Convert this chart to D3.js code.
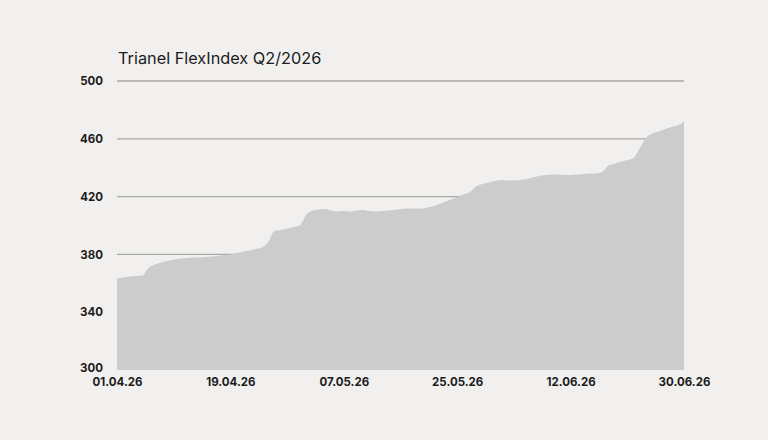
<!DOCTYPE html>
<html lang="en">
<head>
    <meta charset="UTF-8">
    <title>Trianel FlexIndex Q2/2026</title>
    <style>
        body { margin: 0; background: #f1f0ee; overflow: hidden; }
        svg { display: block; font-family: Inter, "Noto Sans", sans-serif; }
    </style>
</head>
<body>
<svg id="chart" width="768" height="440"></svg>
<script src="https://cdnjs.cloudflare.com/ajax/libs/d3/7.8.5/d3.min.js"></script>
<script>
    const title = "Trianel FlexIndex Q2/2026";
    const startDate = "2026-04-01";
    // daily index values, 01.04.26 - 30.06.26
    const values = [
        363.3, 364.0, 364.7, 365.0, 365.4, 370.6, 373.0, 374.4, 375.4, 376.5,
        377.2, 377.5, 377.9, 377.9, 378.2, 378.5, 378.9, 379.6, 379.9, 380.9,
        381.9, 382.7, 383.7, 384.8, 388.6, 396.2, 396.9, 397.9, 399.0, 400.0,
        407.3, 410.2, 411.0, 411.4, 410.4, 409.7, 410.0, 409.7, 410.4, 410.7,
        410.0, 409.7, 410.0, 410.4, 410.7, 411.4, 411.7, 411.7, 411.7, 412.1,
        413.1, 414.5, 416.3, 418.0, 419.7, 421.5, 423.2, 427.0, 428.7, 429.8,
        430.8, 431.5, 431.1, 431.1, 431.5, 432.2, 433.2, 434.3, 434.9, 435.3,
        435.3, 434.9, 434.9, 435.3, 435.6, 436.0, 436.0, 437.0, 441.5, 442.8,
        444.3, 445.3, 446.7, 453.6, 460.9, 463.7, 465.0, 466.8, 468.2, 469.2,
        472.0
    ];
    const yTicks = [300, 340, 380, 420, 460, 500];
    const xTickLabels = ["01.04.26", "19.04.26", "07.05.26", "25.05.26", "12.06.26", "30.06.26"];

    const parse = d3.timeParse("%Y-%m-%d");
    const parseTick = d3.timeParse("%d.%m.%y");
    const start = parse(startDate);
    const data = values.map((v, i) => ({ date: d3.timeDay.offset(start, i), value: v }));

    const svg = d3.select("#chart");
    const margin = { left: 117, right: 84, top: 81, bottom: 70 };
    const width = 768, height = 440;

    const x = d3.scaleTime()
        .domain(d3.extent(data, d => d.date))
        .range([margin.left, width - margin.right]);
    const y = d3.scaleLinear()
        .domain([300, 500])
        .range([height - margin.bottom, margin.top]);

    // grid lines (behind area)
    svg.append("g")
        .selectAll("line")
        .data(yTicks.filter(t => t > 300))
        .join("line")
        .attr("x1", margin.left)
        .attr("x2", width - margin.right)
        .attr("y1", d => y(d))
        .attr("y2", d => y(d))
        .attr("stroke", "#a9a8a6")
        .attr("stroke-width", 1.3);

    const area = d3.area()
        .x(d => x(d.date))
        .y0(y(300))
        .y1(d => y(d.value))
        .curve(d3.curveMonotoneX);

    svg.append("path")
        .datum(data)
        .attr("d", area)
        .attr("fill", "#cccccc");

    // y axis
    const yAxis = d3.axisLeft(y).tickValues(yTicks).tickSize(0).tickPadding(14);
    svg.append("g")
        .attr("transform", `translate(${margin.left},0)`)
        .call(yAxis)
        .call(g => g.select(".domain").remove())
        .selectAll("text")
        .attr("font-family", "Inter, sans-serif")
        .attr("font-size", 11.5)
        .attr("font-weight", 700)
        .attr("fill", "#1c1c1c")
        .attr("dy", d => d === 300 ? "0.1em" : "0.32em");

    // x axis
    const xAxis = d3.axisBottom(x)
        .tickValues(xTickLabels.map(parseTick))
        .tickFormat(d3.timeFormat("%d.%m.%y"))
        .tickSize(0)
        .tickPadding(8);
    svg.append("g")
        .attr("transform", `translate(0,${y(300)})`)
        .call(xAxis)
        .call(g => g.select(".domain").remove())
        .selectAll("text")
        .attr("font-family", "Inter, sans-serif")
        .attr("font-size", 11.5)
        .attr("font-weight", 700)
        .attr("fill", "#1c1c1c");

    svg.append("text")
        .attr("x", 118)
        .attr("y", 64)
        .attr("font-size", 16.3)
        .attr("fill", "#1c1c1c")
        .text(title);
</script>
</body>
</html>
